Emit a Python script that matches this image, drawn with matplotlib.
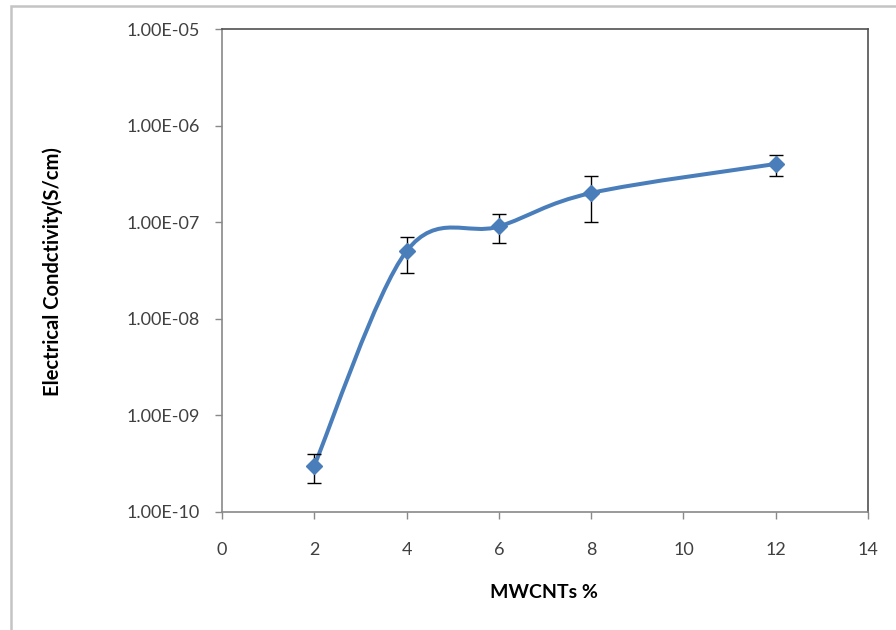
import numpy as np
import matplotlib
matplotlib.use('Agg')
import matplotlib.pyplot as plt
from matplotlib.path import Path
from matplotlib.patches import PathPatch, Rectangle
from matplotlib.ticker import FixedLocator, FuncFormatter, NullLocator

# data
mwcnt = [2, 4, 6, 8, 12]
conductivity = [3e-10, 5e-8, 9e-8, 2e-7, 4e-7]
err = [1e-10, 2e-8, 3e-8, 1e-7, 1e-7]

x_ticks = [0, 2, 4, 6, 8, 10, 12, 14]
y_ticks = [1e-10, 1e-9, 1e-8, 1e-7, 1e-6, 1e-5]

blue = '#4A7EBB'
txt = '#404040'
plt.rcParams['font.family'] = ['Lato', 'DejaVu Sans']

fig = plt.figure(figsize=(8.96, 6.3), dpi=100)
ax = fig.add_axes([222/896, 1-511.7/630, (868-222)/896, (511.7-29)/630])

# light outer chart frame
fig.patches.append(Rectangle((11/896, -0.1), 1.2, 1-6/630+0.1, transform=fig.transFigure,
                             fill=False, edgecolor='#c4c4c4', linewidth=1.8, zorder=0))

ax.set_yscale('log')
ax.set_xlim(0, 14)
ax.set_ylim(1e-10, 1e-5)

# smoothed line (bezier in log space, like excel smoothing)
pts = np.column_stack([np.array(mwcnt, float), np.log10(conductivity)])
verts = [pts[0]]
codes = [Path.MOVETO]
n = len(pts)
for i in range(n - 1):
    p_prev = pts[max(i - 1, 0)]
    p0 = pts[i]
    p1 = pts[i + 1]
    p_next = pts[min(i + 2, n - 1)]
    c1 = p0 + (p1 - p_prev) / 6
    c2 = p1 - (p_next - p0) / 6
    verts += [c1, c2, p1]
    codes += [Path.CURVE4] * 3
verts = np.array(verts)
verts[:, 1] = 10 ** verts[:, 1]
ax.add_patch(PathPatch(Path(verts, codes), facecolor='none', edgecolor=blue,
                       linewidth=2.9, capstyle='round', joinstyle='round', zorder=3))

ax.errorbar(mwcnt, conductivity, yerr=err, fmt='none', ecolor='black',
            elinewidth=1.0, capsize=5, capthick=1.0, zorder=4)
ax.plot(mwcnt, conductivity, linestyle='none', marker='D', markersize=8.5,
        color=blue, zorder=5)

ax.xaxis.set_major_locator(FixedLocator(x_ticks))
ax.yaxis.set_major_locator(FixedLocator(y_ticks))
ax.yaxis.set_minor_locator(NullLocator())
ax.yaxis.set_major_formatter(FuncFormatter(lambda v, p: '%.2E' % v))

ax.tick_params(axis='y', direction='out', length=5, width=1, color='#898989',
               labelsize=13, labelcolor=txt, pad=11)
ax.tick_params(axis='x', direction='out', length=5, width=1, color='#898989',
               labelsize=13, labelcolor=txt, pad=17)

for s in ['left', 'bottom']:
    ax.spines[s].set_color('#898989')
    ax.spines[s].set_linewidth(1.2)
for s in ['top', 'right']:
    ax.spines[s].set_color('#505050')
    ax.spines[s].set_linewidth(1.2)

fig.text(53/896, 1-272/630, 'Electrical Condctivity(S/cm)', rotation=90,
         ha='center', va='center', fontsize=14.5, fontweight='bold', color='black')
fig.text(544/896, 1-592/630, 'MWCNTs %', ha='center', va='center',
         fontsize=14, fontweight='bold', color='black')

fig.savefig('out.png', dpi=100)
